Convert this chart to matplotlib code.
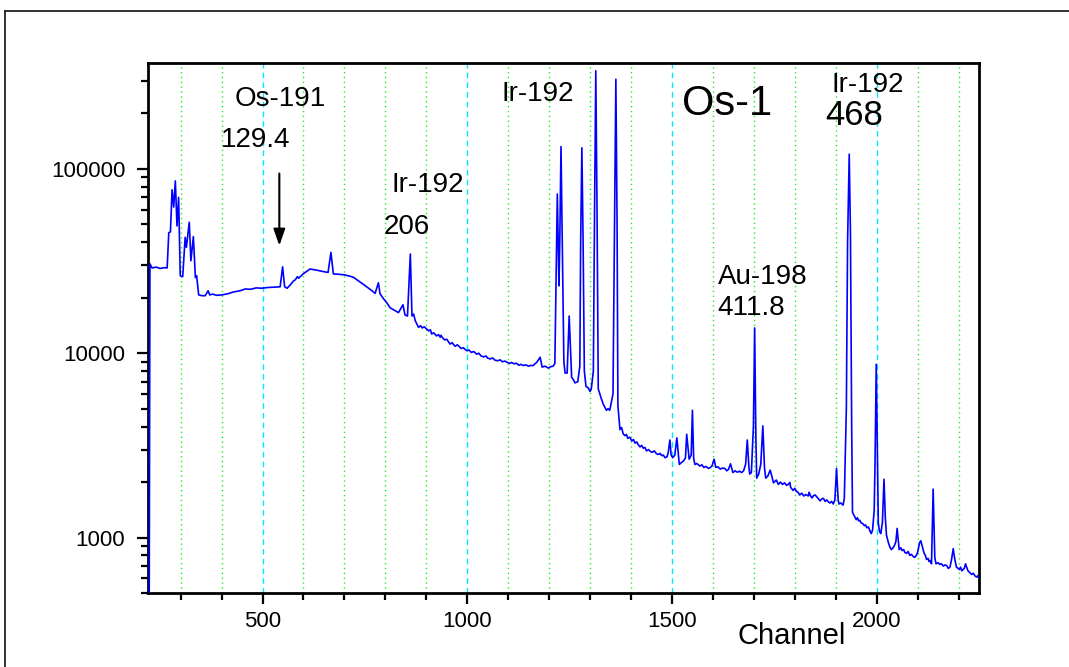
import matplotlib
matplotlib.use("Agg")
import matplotlib.pyplot as plt
from matplotlib.ticker import MultipleLocator, LogLocator, FixedLocator, FuncFormatter
from matplotlib.lines import Line2D

# ---- spectrum values (channel, counts) ----
channel = [220, 223, 225, 230, 240, 250, 260, 267, 271, 275, 279, 283, 287, 291, 295, 299,
           305, 311, 314, 321, 325, 331, 336, 339, 344, 352, 360, 367, 371, 378, 388, 401,
           415, 430, 445, 458, 470, 485, 498, 512, 528, 543, 549, 554, 560, 568, 576, 580,
           585, 588, 600, 616, 629, 645, 660, 667, 673, 685, 700, 712, 722, 735, 751, 765,
           775, 783, 787, 795, 800, 804, 812, 824, 832, 843, 848, 854, 861, 865, 869, 873,
           881, 886, 890, 895, 901, 906, 910, 913, 918, 925, 930, 934, 936, 940, 945, 950,
           958, 963, 970, 976, 985, 990, 999, 1004, 1010, 1016, 1023, 1028, 1034, 1040,
           1046, 1050, 1056, 1062, 1068, 1075, 1080, 1086, 1092, 1097, 1103, 1108, 1115,
           1120, 1126, 1131, 1137, 1143, 1150, 1155, 1161, 1170, 1178, 1183, 1190, 1198,
           1204, 1210, 1214, 1220, 1224, 1226, 1229, 1232, 1236, 1239, 1244, 1249, 1255,
           1259, 1263, 1270, 1275, 1277, 1280, 1283, 1286, 1290, 1295, 1300, 1303, 1308,
           1311, 1314, 1317, 1320, 1326, 1332, 1336, 1340, 1344, 1348, 1356, 1360, 1363,
           1366, 1368, 1373, 1377, 1381, 1385, 1389, 1392, 1397, 1402, 1406, 1410, 1414,
           1418, 1422, 1426, 1430, 1434, 1438, 1443, 1447, 1452, 1457, 1462, 1467, 1471,
           1475, 1479, 1483, 1488, 1491, 1495, 1498, 1502, 1507, 1512, 1518, 1523, 1528,
           1533, 1536, 1542, 1547, 1550, 1553, 1556, 1561, 1568, 1573, 1578, 1583, 1589,
           1594, 1598, 1603, 1607, 1612, 1618, 1623, 1629, 1634, 1638, 1643, 1649, 1654,
           1660, 1665, 1670, 1675, 1680, 1684, 1688, 1690, 1694, 1699, 1702, 1705, 1707,
           1712, 1717, 1722, 1726, 1729, 1734, 1740, 1744, 1748, 1752, 1755, 1760, 1765,
           1770, 1775, 1780, 1784, 1788, 1790, 1796, 1800, 1804, 1808, 1812, 1817, 1822,
           1827, 1833, 1835, 1838, 1842, 1846, 1850, 1856, 1862, 1866, 1870, 1874, 1878,
           1882, 1886, 1890, 1894, 1898, 1902, 1906, 1908, 1912, 1918, 1921, 1926, 1929,
           1933, 1936, 1939, 1941, 1946, 1950, 1953, 1956, 1959, 1962, 1966, 1970, 1973,
           1976, 1980, 1984, 1987, 1990, 1994, 1996, 1999, 2002, 2004, 2007, 2010, 2014,
           2018, 2021, 2024, 2028, 2032, 2036, 2040, 2043, 2047, 2050, 2053, 2055, 2059,
           2062, 2066, 2069, 2073, 2077, 2081, 2085, 2089, 2093, 2097, 2100, 2105, 2108,
           2110, 2113, 2116, 2119, 2122, 2126, 2128, 2131, 2134, 2138, 2142, 2145, 2150,
           2154, 2158, 2163, 2167, 2171, 2175, 2179, 2183, 2187, 2191, 2195, 2199, 2202,
           2205, 2208, 2211, 2214, 2217, 2220, 2223, 2226, 2229, 2232, 2236, 2240, 2244,
           2247, 2250]
counts = [300, 300, 30500, 29000, 29300, 28800, 29100, 29000, 45000, 45500, 77000, 62000,
          86000, 49000, 70000, 26300, 26000, 42500, 37500, 51300, 31700, 42900, 25700, 26300,
          20700, 20500, 20500, 21800, 20700, 20900, 20600, 20700, 21000, 21500, 21800, 22300,
          22200, 22600, 22500, 22700, 22800, 22900, 29400, 22900, 22500, 23500, 24700, 25000,
          26000, 25500, 27000, 28600, 28300, 27800, 27400, 35200, 26900, 26800, 26600, 26200,
          25800, 24600, 23200, 22000, 21100, 24100, 21000, 19800, 19200, 18700, 17600, 17000,
          16600, 18300, 16100, 15900, 34500, 15900, 16300, 15000,
          13800, 14100, 13700, 13900, 13500, 13200, 13400, 12700, 12900, 12400, 12600, 12200,
          12500, 12100, 11800, 11900, 11200, 11400, 10900, 11100, 10600, 10700, 10300, 10400,
          10100, 10200, 9870, 10000, 9650, 9550, 9650, 9400, 9300, 9420, 9150, 9100, 9200,
          8980, 9060, 8930, 8800, 8900, 8750, 8820, 8600, 8700, 8570, 8640, 8500, 8580, 8570,
          8930, 9500, 8400, 8500, 8300, 8450, 8500, 8800, 73000, 23200, 40000, 132000, 40000,
          9000, 7800, 7800, 15900, 7400, 7200, 6900, 7000, 8500, 40000, 130000, 40000, 8000,
          6600, 6500, 6200, 6400, 8000, 60000, 340000, 60000, 6400, 5800, 5300, 5100, 4900,
          5000, 4900, 6000, 60000, 306000, 50000, 5200, 3850, 3950, 3650, 3570, 3620, 3450,
          3500, 3340, 3400, 3250, 3300, 3180, 3100, 3160, 3050, 3080, 2950, 3000, 2930, 2900,
          2950, 2850, 2820, 2860, 2780, 2800, 2710, 2740, 2900, 3380, 2800, 2710, 2800, 3470,
          2490, 2550, 2600, 2700, 3630, 2660, 2800, 4900, 2700, 2490, 2520, 2440, 2480, 2400,
          2430, 2370, 2400, 2450, 2660, 2400, 2420, 2350, 2380, 2370, 2300, 2340, 2510, 2250,
          2300, 2260, 2290, 2250, 2300, 2500, 3380, 2400, 2210, 2250, 4000, 13700, 3500, 2100,
          2210, 2500, 4030, 2400, 2100, 2150, 2320, 2150, 1980, 2020, 2050, 1940, 2000, 1940,
          1980, 1920, 1940, 1990, 1870, 1800, 1850, 1780, 1760, 1700, 1740, 1680, 1710, 1680,
          1760, 1690, 1640, 1690, 1700, 1640, 1580, 1620, 1630, 1570, 1600, 1560, 1540, 1570,
          1520, 1600, 2370, 1600, 1520, 1540, 1500, 1630, 5000, 40000, 120000, 45000, 4000,
          1370, 1300, 1250, 1280, 1230, 1240, 1200, 1190, 1160, 1170, 1130, 1140, 1080, 1050,
          1100, 1400, 2500, 8700, 2500, 1200, 1080, 1050, 1200, 2070, 1300, 1030, 950, 890,
          860, 880, 900, 950, 1120, 950, 860, 880, 850, 860, 830, 820, 840, 800, 810, 790, 780,
          800, 830, 940, 960, 920, 870, 820, 800, 760, 770, 740, 750, 720, 1830, 780, 720, 730,
          715, 720, 700, 710, 705, 680, 690, 760, 870, 760, 690, 680, 670, 690, 660, 670, 680,
          720, 690, 660, 650, 640, 630, 640, 620, 610, 620, 600]

x_major = [500, 1000, 1500, 2000]
x_labels = ["500", "1000", "1500", "2000"]
y_major = [1000, 10000, 100000]
y_labels = ["1000", "10000", "100000"]

FONT = ["Liberation Sans", "DejaVu Sans"]
plt.rcParams["font.family"] = FONT

fig = plt.figure(figsize=(10.69, 6.67), dpi=100)
W, H = 1069, 667
ax = fig.add_axes([147.5 / W, 1 - 593 / H, (979 - 147.5) / W, (593 - 63) / H])

ax.plot(channel, counts, color="#0000ff", lw=1.2, zorder=3)
ax.set_yscale("log")
ax.set_xlim(219, 2250)
ax.set_ylim(500, 375000)


def xfmt(v, p):
    k = int(round(v))
    return x_labels[x_major.index(k)] if k in x_major else ""


def yfmt(v, p):
    k = int(round(v))
    return y_labels[y_major.index(k)] if k in y_major else ""


ax.xaxis.set_major_locator(FixedLocator(x_major))
ax.xaxis.set_major_formatter(FuncFormatter(xfmt))
ax.xaxis.set_minor_locator(MultipleLocator(100))
ax.yaxis.set_major_locator(FixedLocator(y_major))
ax.yaxis.set_major_formatter(FuncFormatter(yfmt))
ax.yaxis.set_minor_locator(LogLocator(base=10, subs=range(2, 10), numticks=20))
ax.yaxis.set_minor_formatter(FuncFormatter(lambda v, p: ""))

ax.grid(True, axis="x", which="major", color="#00e8ff", ls=(0, (4, 3)), lw=1.0, zorder=1)
ax.grid(True, axis="x", which="minor", color="#22ee22", ls=(0, (1, 2.5)), lw=1.0, zorder=1)
ax.grid(False, axis="y", which="both")

ax.tick_params(axis="both", which="major", direction="out", length=8, width=1.6,
               labelsize=16, color="black")
ax.tick_params(axis="both", which="minor", direction="out", length=5, width=1.6, color="black")
ax.tick_params(axis="x", which="major", pad=5)
ax.tick_params(axis="y", which="major", pad=8)
ax.tick_params(top=False, right=False, which="both")
for s in ax.spines.values():
    s.set_linewidth(2.0)
    s.set_color("black")

fig.text(792 / W, 1 - 636 / H, "Channel", ha="center", va="center", fontsize=21)

# annotations
tk = dict(color="black", fontsize=20, ha="center", va="center")
ax.text(543, 238000, "Os-191", **tk)
ax.text(482, 142500, "129.4", **tk)
ax.text(1171, 256000, "Ir-192", **tk)
ax.text(1634, 226000, "Os-1", color="black", fontsize=30, ha="center", va="center")
ax.text(1978, 284000, "Ir-192", **tk)
ax.text(1946, 195000, "468", color="black", fontsize=25, ha="center", va="center")
ax.text(904, 81200, "Ir-192", **tk)
ax.text(853, 48600, "206", **tk)
ax.text(1612, 26000, "Au-198", color="black", fontsize=20, ha="left", va="center")
ax.text(1612, 17600, "411.8", color="black", fontsize=20, ha="left", va="center")
ax.annotate("", xy=(541, 38300), xytext=(541, 94300),
            arrowprops=dict(arrowstyle="-|>,head_length=1.0,head_width=0.35",
                            color="black", lw=1.5, shrinkA=0, shrinkB=0))

# outer frame (partially visible)
fig.add_artist(Line2D([5 / W, 1.0], [1 - 11 / H, 1 - 11 / H], transform=fig.transFigure,
                      color="#222222", lw=1.3))
fig.add_artist(Line2D([5 / W, 5 / W], [1 - 11 / H, 0.0], transform=fig.transFigure,
                      color="#222222", lw=1.3))

fig.savefig("out.png", dpi=100)
